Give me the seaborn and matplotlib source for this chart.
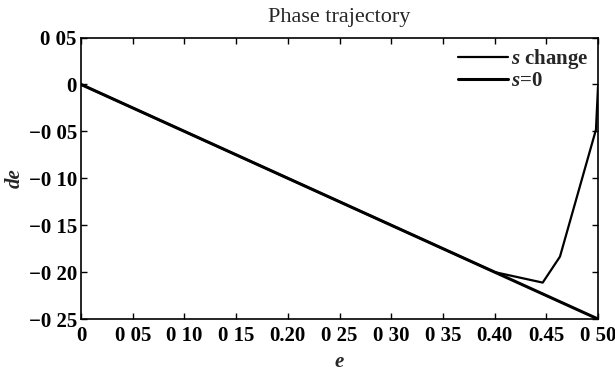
import matplotlib
matplotlib.use("Agg")
import matplotlib.pyplot as plt
import seaborn as sns
import pandas as pd
from matplotlib.ticker import FixedLocator, FixedFormatter

# ---- data ----
e_change = [0.0, 0.05, 0.10, 0.15, 0.20, 0.25, 0.30, 0.35, 0.40, 0.4465, 0.4632, 0.498, 0.5]
de_change = [0.0, -0.025, -0.05, -0.075, -0.10, -0.125, -0.15, -0.175, -0.20, -0.2112, -0.1835, -0.0482, -0.002]
e_zero = [0.0, 0.25, 0.5]
de_zero = [0.0, -0.125, -0.25]

x_ticks = [0, 0.05, 0.10, 0.15, 0.20, 0.25, 0.30, 0.35, 0.40, 0.45, 0.50]
x_labels = ['0', '0 05', '0 10', '0 15', '0.20', '0 25', '0 30', '0 35', '0.40', '0.45', '0 50']
y_ticks = [0.05, 0, -0.05, -0.10, -0.15, -0.20, -0.25]
y_labels = ['0 05', '0', '\u22120 05', '\u22120 10', '\u22120 15', '\u22120 20', '\u22120 25']

sns.set_style("ticks")
plt.rcParams['font.family'] = ['Liberation Serif', 'DejaVu Serif']
plt.rcParams['mathtext.fontset'] = 'custom'
plt.rcParams['mathtext.it'] = 'Liberation Serif:italic:bold'
plt.rcParams['mathtext.rm'] = 'Liberation Serif:bold'

df_c = pd.DataFrame({'e': e_change, 'de': de_change})
df_z = pd.DataFrame({'e': e_zero, 'de': de_zero})

fig = plt.figure(figsize=(6.15, 3.77), dpi=100)
ax = fig.add_axes([0.1317, 0.1538, 0.8407, 0.7467])

sns.lineplot(data=df_c, x='e', y='de', ax=ax, color='black', linewidth=1.6,
             sort=False, estimator=None, label='$s$ change')
sns.lineplot(data=df_z, x='e', y='de', ax=ax, color='black', linewidth=2.2,
             sort=False, estimator=None, label='$s$=0')

ax.set_xlim(0, 0.5)
ax.set_ylim(-0.25, 0.05)
ax.xaxis.set_major_locator(FixedLocator(x_ticks))
ax.xaxis.set_major_formatter(FixedFormatter(x_labels))
ax.yaxis.set_major_locator(FixedLocator(y_ticks))
ax.yaxis.set_major_formatter(FixedFormatter(y_labels))
ax.tick_params(direction='in', length=4, width=1, top=True, right=True,
               labelsize=15, colors='black')
ax.tick_params(axis='x', pad=5)
ax.tick_params(axis='y', pad=3)
for t in ax.get_xticklabels() + ax.get_yticklabels():
    t.set_fontweight('bold')
for s in ax.spines.values():
    s.set_visible(True)
    s.set_linewidth(1.2)
    s.set_color('black')

ax.set_xlabel('e', fontsize=15, fontstyle='italic', fontweight='bold', labelpad=4)
ax.set_ylabel('de', fontsize=15, fontstyle='italic', fontweight='bold', labelpad=3)
ax.set_title('Phase trajectory', fontsize=16, pad=11)

leg = ax.legend(loc='upper right', frameon=False, fontsize=15, handlelength=2.4,
                handletextpad=0.15, borderaxespad=0.05, labelspacing=0.0)
for t in leg.get_texts():
    t.set_fontweight('bold')

fig.savefig('out.png', dpi=100)
